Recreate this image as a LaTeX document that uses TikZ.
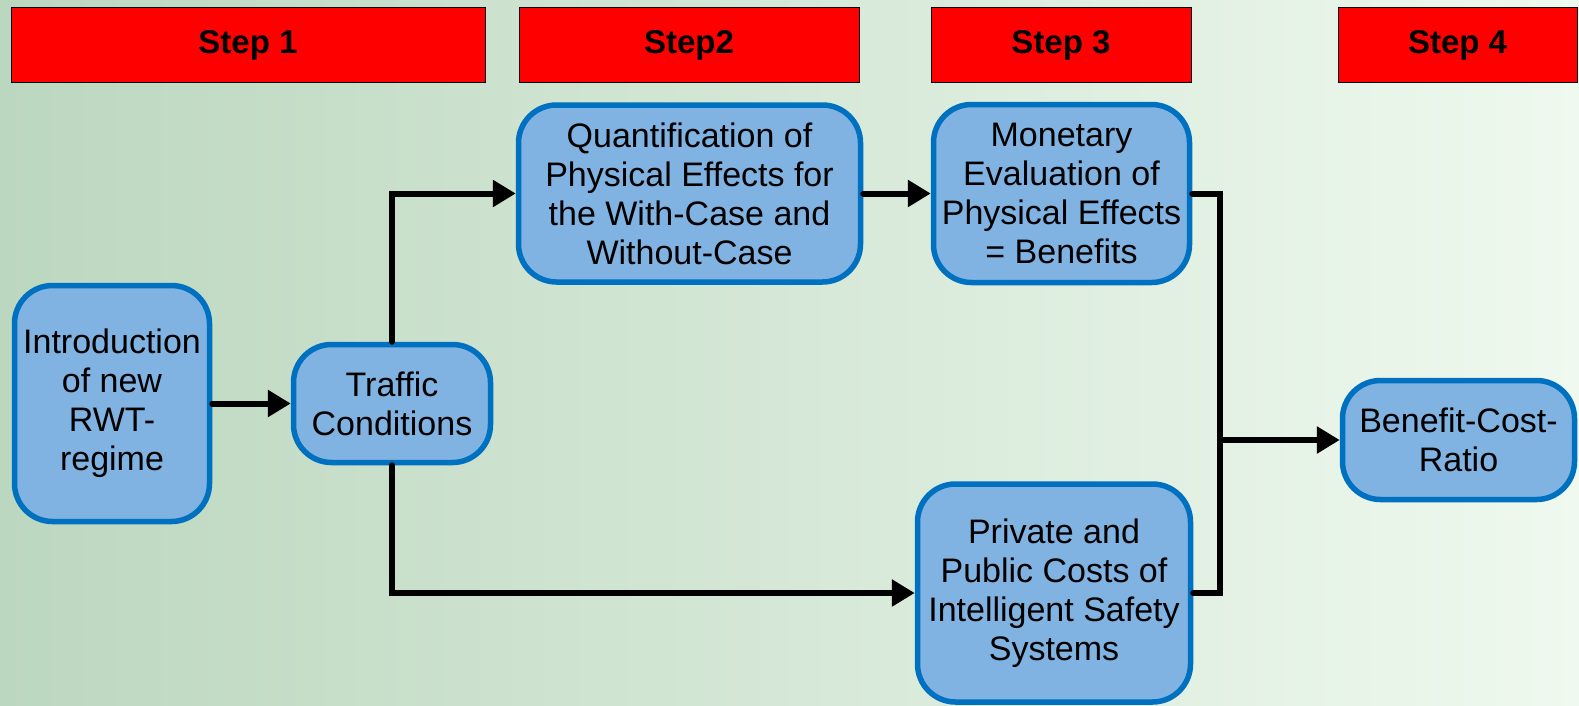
\documentclass[tikz,border=0pt]{standalone}
\usepackage{fontspec}
\setmainfont{Liberation Sans}
\usetikzlibrary{arrows.meta,calc}
\definecolor{bgleft}{HTML}{BCD7BF}
\definecolor{bgright}{HTML}{EFF9EF}
\definecolor{boxfill}{HTML}{80B3E1}
\definecolor{boxline}{HTML}{0070C0}
\tikzset{
    stepbar/.style={draw=black,line width=1pt,fill=red,font=\fontsize{33}{38}\selectfont\bfseries,minimum height=75pt,inner sep=0pt},
    block/.style={draw=boxline,line width=5.5pt,fill=boxfill,rounded corners=38pt,align=center,
      font=\fontsize{34}{39}\selectfont,inner sep=0pt},
    link/.style={line width=6pt,line cap=round},
    arr/.style={link,-{Triangle[length=23pt,width=26pt]}},
  }
\begin{document}
\begin{tikzpicture}[x=1pt,y=-1pt]
				  %fond degrade
				  \shade[left color=bgleft,right color=bgright] (0,0) rectangle (1579,705);
				  \useasboundingbox (0,0) rectangle (1579,705);
				  %etapes
				  \node[stepbar,minimum width=474pt] (s1) at (248,45) {Step 1};
				  \node[stepbar,minimum width=340pt] (s2) at (689,45) {Step2};
				  \node[stepbar,minimum width=260pt] (s3) at (1061,45) {Step 3};
				  \node[stepbar,minimum width=239pt] (s4) at (1457.5,45) {Step 4};
				  %blocs
				  \node[block,minimum width=195pt,minimum height=236pt] (intro) at (112,403.5) {Introduction\\of new\\RWT-\\regime};
				  \node[block,minimum width=197pt,minimum height=118pt] (traffic) at (392,403.5) {Traffic\\Conditions};
				  \node[block,minimum width=342pt,minimum height=177pt] (quant) at (689.5,193.5) {Quantification of\\Physical Effects for\\the With-Case and\\Without-Case};
				  \node[block,minimum width=256pt,minimum height=178pt] (money) at (1061.5,193.5) {Monetary\\Evaluation of\\Physical Effects\\= Benefits};
				  \node[block,minimum width=273pt,minimum height=218pt] (costs) at (1054,593) {Private and\\Public Costs of\\Intelligent Safety\\Systems};
				  \node[block,minimum width=232pt,minimum height=119pt] (ratio) at (1458.5,440) {Benefit-Cost-\\Ratio};
				  %fleches
				  \coordinate (merge) at (1220,440);
				  \draw[arr] (intro.east) -- (traffic.west);
				  \draw[arr] (traffic.north) |- (quant.west);
				  \draw[arr] (traffic.south) |- (costs.west);
				  \draw[arr] (quant.east) -- (money.west);
				  \draw[link] (money.east) -| (merge) |- (costs.east);
				  \draw[arr] (merge) -- (ratio.west);
\end{tikzpicture}
\end{document}
